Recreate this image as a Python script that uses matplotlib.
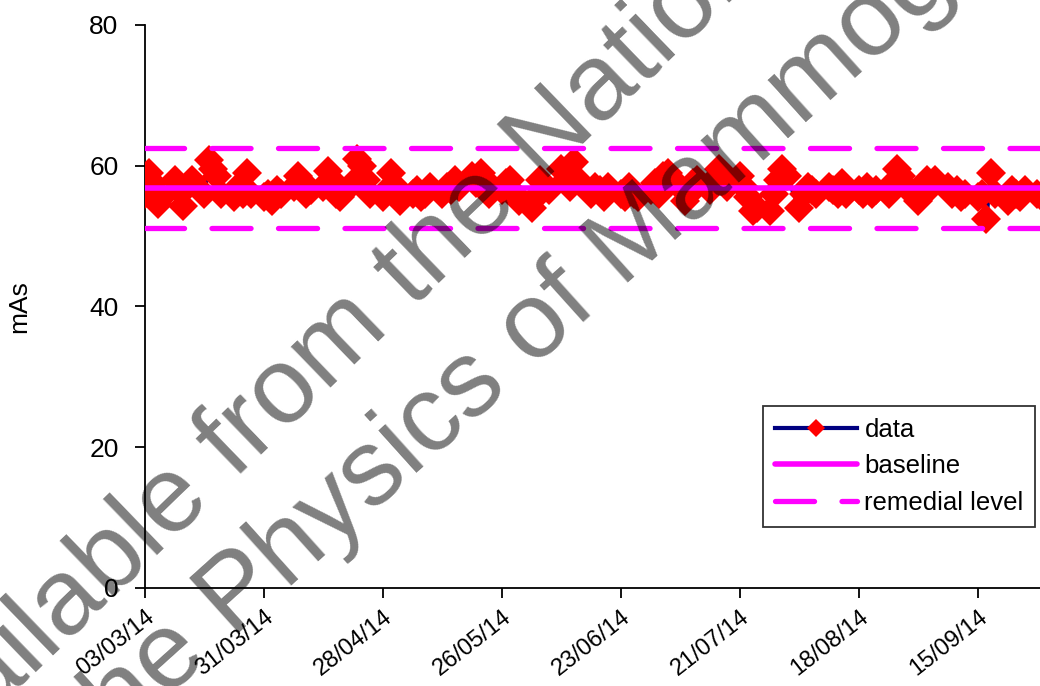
import numpy as np
import pandas as pd
import matplotlib
matplotlib.use("Agg")
import matplotlib.pyplot as plt
import matplotlib.dates as mdates

# ------------------------
# data
# ------------------------
start_date = "2014-03-03"
end_date = "2014-09-30"

mas_values = [
    56.0, 59.0, 57.5, 54.5, 55.5,
    58.0, 56.5, 54.3, 57.0, 58.0,
    56.0, 60.8, 59.5, 58.5, 56.0,
    55.5, 57.0, 56.0, 59.0, 56.0,
    55.5, 56.0, 55.0, 56.5, 56.0,
    57.0, 58.5, 57.5, 56.0, 56.5,
    57.0, 59.2, 58.0, 56.0, 55.5,
    57.5, 61.0, 60.0, 58.0, 56.0,
    55.5, 56.5, 59.0, 57.0, 55.0,
    56.0, 56.5, 55.5, 56.0, 57.0,
    56.0, 57.0, 56.5, 58.0, 57.0,
    58.5, 57.5, 59.0, 58.0, 56.0,
    56.5, 57.5, 58.0, 56.0, 55.0,
    54.0, 55.5, 58.0, 57.0, 56.5,
    59.5, 58.0, 57.0, 60.5, 58.0,
    56.0, 57.0, 56.5, 55.5, 57.0,
    56.0, 55.5, 57.0, 56.0, 55.5,
    56.5, 57.5, 56.0, 58.5, 59.0,
    57.0, 55.0, 56.0, 57.5, 58.0,
    56.5, 58.0, 59.5, 58.0, 57.0,
    58.5, 57.0, 55.5, 53.5, 54.0,
    53.5, 56.0, 58.0, 59.5, 58.5,
    54.0, 56.0, 57.0, 56.5, 56.0,
    57.0, 56.5, 56.0, 57.5, 56.0,
    56.5, 56.0, 57.0, 56.0, 56.5,
    56.0, 57.5, 59.5, 58.5, 57.0,
    55.0, 57.0, 58.0, 57.0, 58.0,
    57.0, 56.0, 56.5, 55.5, 56.0,
    55.5, 56.0, 52.5, 59.0, 56.0,
    55.0, 56.5, 56.0, 55.5, 56.5,
    56.0, 55.5,
]

baseline = 56.8
remedial_upper = 62.5
remedial_lower = 51.1

tick_labels = ["03/03/14", "31/03/14", "28/04/14", "26/05/14",
               "23/06/14", "21/07/14", "18/08/14", "15/09/14"]

watermark_1 = "Available from the National"
watermark_2 = "the Physics of Mammography"

# ------------------------
# plot
# ------------------------
plt.rcParams["font.family"] = ["Liberation Sans", "DejaVu Sans"]

dates = pd.bdate_range(start_date, end_date)[:len(mas_values)]
tick_dates = pd.to_datetime(tick_labels, format="%d/%m/%y")

fig = plt.figure(figsize=(10.4, 6.86), dpi=100)
ax = fig.add_axes([0.1394, 0.1429, 0.8606, 0.8207])

ax.plot(dates, mas_values, color="#000080", lw=3, marker="D", ms=15,
        mfc="red", mec="red", mew=0, label="data", zorder=3)
ax.axhline(baseline, color="#FF00FF", lw=4, solid_capstyle="round",
           label="baseline", zorder=4)
ax.axhline(remedial_upper, color="#FF00FF", lw=3.8, dashes=(7.4, 5.2),
           dash_capstyle="round", label="remedial level", zorder=4)
ax.axhline(remedial_lower, color="#FF00FF", lw=3.8, dashes=(7.4, 5.2),
           dash_capstyle="round", zorder=4)

ax.set_ylim(0, 80)
ax.set_yticks([0, 20, 40, 60, 80])
x0 = mdates.date2num(tick_dates[0])
ax.set_xlim(x0, x0 + 210.6)
ax.set_xticks(tick_dates)
ax.set_xticklabels(tick_labels, rotation=38, ha="right", rotation_mode="anchor")
ax.xaxis.set_minor_locator(plt.NullLocator())

for s in ["top", "right"]:
    ax.spines[s].set_visible(False)
for s in ["left", "bottom"]:
    ax.spines[s].set_linewidth(1.3)
ax.tick_params(axis="both", length=7, width=1.3)
ax.tick_params(axis="y", labelsize=19, pad=12)
ax.tick_params(axis="x", labelsize=17, pad=6)
ax.set_ylabel("mAs", fontsize=19, labelpad=42)

leg = ax.legend(loc="upper left", bbox_to_anchor=(763 / 1040, 1 - 406 / 686),
                bbox_transform=fig.transFigure, fontsize=18.5, frameon=True,
                fancybox=False, handlelength=3.2, borderaxespad=0,
                labelspacing=0.5, handletextpad=0.3, borderpad=0.45,
                markerscale=0.6)
leg.get_frame().set_edgecolor("black")
leg.get_frame().set_linewidth(1.3)

# watermark (semi-transparent, drawn over everything)
fig.text(-102 / 1040, 1 - 805 / 686, watermark_1,
         fontsize=78, rotation=44, color="black", alpha=0.5,
         ha="left", va="baseline", rotation_mode="anchor", zorder=10)
fig.text(98 / 1040, 1 - 760 / 686, watermark_2,
         fontsize=78, rotation=42, color="black", alpha=0.5,
         ha="left", va="baseline", rotation_mode="anchor", zorder=10)

fig.savefig("out.png", dpi=100)
